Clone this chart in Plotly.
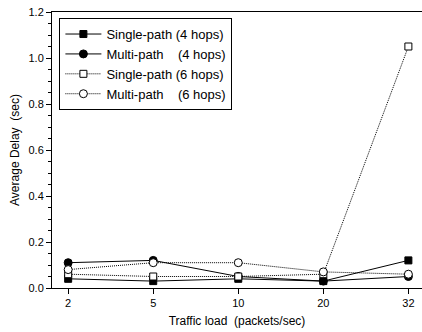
import plotly.graph_objects as go

loads = ["2", "5", "10", "20", "32"]
single4 = [0.04, 0.03, 0.04, 0.03, 0.12]
multi4 = [0.11, 0.12, 0.05, 0.03, 0.05]
single6 = [0.06, 0.05, 0.05, 0.06, 1.05]
multi6 = [0.08, 0.11, 0.11, 0.07, 0.06]
names = ["Single-path (4 hops)", "Multi-path\u00a0\u00a0\u00a0\u00a0(4 hops)",
         "Single-path (6 hops)", "Multi-path\u00a0\u00a0\u00a0\u00a0(6 hops)"]

fig = go.Figure()
specs = [
    (single4, names[0], "square", "black", "solid"),
    (multi4, names[1], "circle", "black", "solid"),
    (single6, names[2], "square", "white", "1px,1px"),
    (multi6, names[3], "circle", "white", "1px,1px"),
]
for ys, nm, sym, fill, dash in specs:
    fig.add_trace(go.Scatter(
        x=loads, y=ys, name=nm, mode="lines+markers",
        line=dict(color="black", width=1, dash=dash),
        marker=dict(symbol=sym, size=8 if sym == "circle" else 7, color=fill,
                    line=dict(color="black", width=1)),
    ))

fig.update_layout(
    width=422, height=332,
    margin=dict(l=52, r=0, t=12, b=44),
    paper_bgcolor="white", plot_bgcolor="white",
    font=dict(family="Liberation Sans, Arial, sans-serif", color="black", size=11),
    showlegend=True,
    legend=dict(x=0.02, y=0.978, xanchor="left", yanchor="top",
                bordercolor="black", borderwidth=1, bgcolor="white",
                font=dict(size=13), tracegroupgap=0, itemwidth=36),
)
fig.update_xaxes(
    type="category", range=[-0.19, 4.16],
    showline=True, linecolor="black", linewidth=1, mirror=True,
    ticks="outside", ticklen=5, tickcolor="black",
    showgrid=False, zeroline=False,
    tickfont=dict(size=11),
    title=dict(text="Traffic load\u00a0\u00a0(packets/sec)", font=dict(size=12), standoff=8),
)
fig.update_yaxes(
    range=[0, 1.2], dtick=0.2, tickformat=".1f",
    showline=True, linecolor="black", linewidth=1,
    ticks="outside", ticklen=5, tickcolor="black",
    minor=dict(dtick=0.05, ticks="outside", ticklen=3, tickcolor="black"),
    showgrid=False, zeroline=False,
    tickfont=dict(size=11),
    title=dict(text="Average Delay\u00a0\u00a0(sec)", font=dict(size=12), standoff=6),
)

fig.write_html("out.html")
